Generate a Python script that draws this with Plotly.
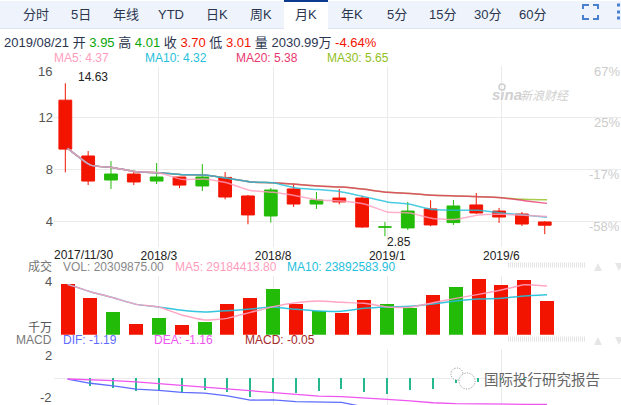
import plotly.graph_objects as go

W, H = 621, 405

# %%
# Monthly data
months = ["2017/11/30", "2017/12", "2018/1", "2018/2", "2018/3", "2018/4", "2018/5", "2018/6",
          "2018/7", "2018/8", "2018/9", "2018/10", "2018/11", "2018/12", "2019/1", "2019/2",
          "2019/3", "2019/4", "2019/5", "2019/6", "2019/7", "2019/8"]
opens = [13.33, 9.03, 7.18, 7.64, 7.10, 7.41, 6.72, 7.38, 5.95, 4.41, 6.49, 5.33, 5.79, 5.79,
         3.55, 3.49, 4.95, 3.90, 5.26, 4.79, 4.56, 3.95]
highs = [14.63, 9.41, 8.64, 7.87, 8.49, 7.41, 8.41, 7.79, 6.03, 6.56, 6.92, 6.26, 6.49, 5.95,
         3.95, 5.49, 5.62, 5.64, 6.18, 5.03, 4.72, 4.01]
lows = [7.77, 6.79, 6.49, 6.79, 6.87, 6.56, 6.33, 5.69, 3.77, 3.90, 5.10, 4.95, 5.31, 3.49,
        2.85, 3.33, 3.62, 3.72, 4.56, 3.87, 3.64, 3.01]
closes = [9.56, 7.10, 7.64, 7.03, 7.41, 6.79, 7.41, 5.87, 4.49, 6.41, 5.33, 5.64, 5.49, 3.56,
          3.57, 4.79, 3.72, 5.18, 4.64, 4.33, 3.79, 3.70]
ma5 = [9.62, 8.33, 8.13, 7.82, 7.74, 7.23, 7.26, 6.95, 6.38, 6.23, 5.97, 5.64, 5.56, 5.33,
       4.72, 4.64, 4.21, 4.15, 4.49, 4.54, 4.46, 4.37]
ma10 = [9.62, 8.33, 8.13, 7.82, 7.74, 7.59, 7.56, 7.31, 7.03, 6.97, 6.56, 6.44, 6.26, 5.90,
        5.49, 5.31, 4.90, 4.85, 4.85, 4.64, 4.49, 4.32]
ma20 = [9.62, 8.33, 8.13, 7.82, 7.74, 7.59, 7.56, 7.31, 7.03, 6.97, 6.85, 6.72, 6.64, 6.46,
        6.23, 6.15, 6.00, 5.95, 5.90, 5.82, 5.59, 5.38]
ma30 = [9.62, 8.33, 8.13, 7.82, 7.74, 7.59, 7.56, 7.31, 7.03, 6.97, 6.85, 6.72, 6.64, 6.46,
        6.23, 6.15, 6.00, 5.95, 5.90, 5.82, 5.69, 5.65]

# volume in 千万
vol = [3.04, 2.20, 1.36, 0.64, 1.00, 0.58, 0.76, 1.84, 2.20, 2.74, 1.84, 1.42, 1.30, 2.08,
       1.84, 1.60, 2.38, 2.86, 3.34, 2.98, 3.28, 2.03]
vol_ma5 = [3.02, 2.58, 2.22, 1.82, 1.66, 1.18, 0.88, 0.98, 1.34, 1.68, 1.92, 2.02, 1.94, 1.88,
           1.66, 1.64, 1.92, 2.18, 2.42, 2.68, 3.00, 2.92]
vol_ma10 = [3.02, 2.58, 2.22, 1.82, 1.66, 1.46, 1.36, 1.44, 1.54, 1.66, 1.52, 1.42, 1.40, 1.58,
            1.66, 1.70, 1.84, 2.02, 2.14, 2.18, 2.32, 2.39]

dif = [-0.03, -0.22, -0.34, -0.48, -0.54, -0.63, -0.66, -0.78, -0.97, -0.96, -1.04, -1.06, -1.07,
       -1.28, -1.39, -1.46, -1.49, -1.46, -1.37, -1.31, -1.25, -1.19]
dea = [-0.03, -0.06, -0.10, -0.16, -0.24, -0.31, -0.39, -0.46, -0.57, -0.64, -0.72, -0.79, -0.82,
       -0.87, -0.94, -1.01, -1.09, -1.13, -1.15, -1.15, -1.16, -1.16]
macd = [0, -0.33, -0.45, -0.57, -0.57, -0.63, -0.54, -0.63, -0.84, -0.63, -0.66, -0.57, -0.48,
        -0.63, -0.70, -0.51, -0.49, -0.22, -0.15, -0.05, -0.05, -0.05]

tabs = ["分时", "5日", "年线", "YTD", "日K", "周K", "月K", "年K", "5分", "15分", "30分", "60分"]
tab_centers = [36, 81, 126, 171, 217, 261, 306, 352, 397, 442, 487, 532]
date_ticks = [4, 9, 14, 19]
price_ticks = [12, 8, 4]
pct_labels = ["67%", "25%", "-17%", "-58%"]

# %%
RED = "#f31400"
GREEN = "#22bb08"
C_MA5 = "#ff9dbd"
C_MA10 = "#1fc0dc"
C_MA20 = "#e8386f"
C_MA30 = "#92c01c"
GRID = "#ebebeb"
LATIN = "Liberation Sans, Noto Sans CJK SC, sans-serif"
CJK = "Noto Sans CJK SC, Liberation Sans, sans-serif"


def px(x):
    return x / W


def py(y):
    return 1 - y / H


idx = list(range(len(months)))
bar_colors = [GREEN if c >= o else RED for o, c in zip(opens, closes)]

fig = go.Figure()

fig.add_trace(go.Candlestick(
    x=[i - 0.1 for i in idx], open=opens, high=highs, low=lows, close=closes,
    increasing=dict(line=dict(color=GREEN, width=1), fillcolor=GREEN),
    decreasing=dict(line=dict(color=RED, width=1), fillcolor=RED),
    xaxis="x", yaxis="y", showlegend=False,
))
for values, color in [(ma30, C_MA30), (ma20, C_MA20), (ma10, C_MA10), (ma5, C_MA5)]:
    fig.add_trace(go.Scatter(x=idx, y=values, mode="lines", opacity=0.8,
                             line=dict(color=color, width=1.5, shape="spline", smoothing=0.4),
                             xaxis="x", yaxis="y", showlegend=False))

fig.add_trace(go.Bar(x=idx, y=vol, marker=dict(color=bar_colors, line=dict(width=0)), width=0.613,
                     xaxis="x2", yaxis="y2", showlegend=False))
for values, color in [(vol_ma10, C_MA10), (vol_ma5, C_MA5)]:
    fig.add_trace(go.Scatter(x=idx, y=values, mode="lines", opacity=0.9,
                             line=dict(color=color, width=1.5, shape="spline", smoothing=0.4),
                             xaxis="x2", yaxis="y2", showlegend=False))

fig.add_trace(go.Bar(x=idx, y=macd, marker=dict(color="#26b98f", line=dict(width=0)), width=0.05,
                     xaxis="x3", yaxis="y3", showlegend=False))
for values, color in [(dif, "#5e6cff"), (dea, "#ef55ef")]:
    fig.add_trace(go.Scatter(x=idx, y=values, mode="lines",
                             line=dict(color=color, width=1.3),
                             xaxis="x3", yaxis="y3", showlegend=False))

x_range = [-0.596, 24.24]
x_domain = [px(54), 1]
fig.update_layout(
    width=W, height=H, margin=dict(l=0, r=0, t=0, b=0), autosize=False,
    paper_bgcolor="white", plot_bgcolor="white", boxgap=0.2, bargap=0,
    font=dict(family=LATIN),
    xaxis=dict(domain=x_domain, range=x_range, showgrid=True, gridcolor=GRID, gridwidth=1,
               zeroline=False, rangeslider=dict(visible=False), tickmode="array",
               tickvals=date_ticks, ticktext=[months[i] for i in date_ticks],
               tickfont=dict(size=12, color="#222"), ticklen=0, anchor="y"),
    yaxis=dict(domain=[py(247), py(65.5)], range=[2.02, 16], gridcolor=GRID, gridwidth=1,
               zeroline=False, tickmode="array", tickvals=[16] + price_ticks,
               ticktext=[""] + [str(v) for v in price_ticks],
               tickfont=dict(size=13, color="#555"), ticklen=0, anchor="x"),
    xaxis2=dict(domain=x_domain, range=x_range, showgrid=True, gridcolor=GRID, gridwidth=1,
                zeroline=False, tickmode="array", tickvals=date_ticks, showticklabels=False,
                ticklen=0, anchor="y2"),
    yaxis2=dict(domain=[py(334.7), py(275.7)], range=[0, 3.54], gridcolor=GRID, gridwidth=1,
                zeroline=False, tickmode="array", tickvals=[0, 3.54], showticklabels=False,
                ticklen=0, anchor="x2"),
    xaxis3=dict(domain=x_domain, range=x_range, showgrid=True, gridcolor=GRID, gridwidth=1,
                zeroline=False, tickmode="array", tickvals=date_ticks, showticklabels=False,
                ticklen=0, anchor="y3"),
    yaxis3=dict(domain=[0, py(349)], range=[-1.19, 1.31], gridcolor=GRID, gridwidth=1,
                zeroline=False, tickmode="array", tickvals=[0, 1.31], showticklabels=False,
                ticklen=0, anchor="x3"),
)

# %%
# Toolbar and small furniture
paper = dict(xref="paper", yref="paper")
shapes = [
    dict(type="rect", x0=0, x1=1, y0=py(28), y1=py(1), fillcolor="#eff4fc",
         line=dict(width=0), layer="below", **paper),
    dict(type="line", x0=0, x1=1, y0=py(28.5), y1=py(28.5), line=dict(color="#dde5f2", width=1), **paper),
    dict(type="rect", x0=px(284), x1=px(328), y0=py(29), y1=py(2), fillcolor="white",
         line=dict(width=0), **paper),
    dict(type="rect", x0=px(284), x1=px(328), y0=py(2), y1=py(0), fillcolor="#0b3a8f",
         line=dict(width=0), **paper),
]
icon = "#4a80d0"
for corner in [[(583, 9), (583, 5), (589, 5)], [(593, 5), (598, 5), (598, 9)],
               [(583, 15), (583, 19), (589, 19)], [(593, 19), (598, 19), (598, 15)]]:
    path = "M" + " L".join(f"{px(a)},{py(b)}" for a, b in corner)
    shapes.append(dict(type="path", path=path, line=dict(color=icon, width=2), **paper))
for y in [5, 12, 18]:
    shapes.append(dict(type="rect", x0=px(617), x1=px(620), y0=py(y + 1.5), y1=py(y - 1.5),
                       fillcolor=icon, line=dict(width=0), **paper))
for y in [265, 339]:
    shapes.append(dict(type="line", x0=px(508), x1=px(585), y0=py(y), y1=py(y),
                       line=dict(color="#e4e4e4", width=5, dash="1px,1px"), **paper))
    shapes.append(dict(type="path", line=dict(width=0), fillcolor="#e6e6e6", **paper,
                       path=f"M{px(594)},{py(y + 6)} L{px(602)},{py(y + 6)} L{px(598)},{py(y - 2)} Z"))
    shapes.append(dict(type="path", line=dict(width=0), fillcolor="#e6e6e6", **paper,
                       path=f"M{px(615)},{py(y - 2)} L{px(623)},{py(y - 2)} L{px(619)},{py(y + 6)} Z"))
# wechat mark
for x0, x1, y0, y1 in [(451, 463, 368, 380), (459, 475, 373, 389)]:
    shapes.append(dict(type="circle", x0=px(x0), x1=px(x1), y0=py(y1), y1=py(y0), fillcolor="white",
                       line=dict(color="#8a8a8a", width=1, dash="1px,1.5px"), **paper))
# eye of the sina logo
shapes.append(dict(type="circle", x0=px(499), x1=px(505), y0=py(90), y1=py(84),
                   line=dict(color="#cfcfcf", width=1.5), **paper))
fig.update_layout(shapes=shapes)


def label(text, x, y, size=12, color="#333", anchor="left", family=LATIN, **kw):
    return dict(text=text, xref="paper", yref="paper", x=px(x), y=py(y), xanchor=anchor,
                yanchor="middle", showarrow=False, font=dict(size=size, color=color, family=family),
                borderpad=0, **kw)


def span(text, color):
    return f'<span style="color:{color}">{text}</span>'


ink = "#2b3550"
ohlc = "2019/08/21 开 " + span("3.95", "#0aa60a") + " 高 " + span("4.01", "#0aa60a") + \
       " 收 " + span("3.70", "#f31400") + " 低 " + span("3.01", "#f31400") + \
       " 量 2030.99万 " + span("-4.64%", "#f31400")

notes = [label(t, x, 15, size=13, color=ink, anchor="center") for t, x in zip(tabs, tab_centers)]
notes += [
    label(ohlc, 3, 42, size=13, color=ink),
    label("MA5: 4.37", 53, 58, color=C_MA5),
    label("MA10: 4.32", 144, 58, color=C_MA10),
    label("MA20: 5.38", 235, 58, color=C_MA20),
    label("MA30: 5.65", 326, 58, color=C_MA30),
    label("16", 53, 71, size=13, color="#555", anchor="right"),
    label("2017/11/30", 53, 254.5, size=12, color="#222"),
    label("成交", 53, 266.5, color="#777", anchor="right"),
    label("VOL: 20309875.00", 62, 266.5, color="#888"),
    label("MA5: 29184413.80", 174, 266.5, color=C_MA5),
    label("MA10: 23892583.90", 286, 266.5, color=C_MA10),
    label("4", 53, 281, size=13, color="#555", anchor="right"),
    label("千万", 53, 328, color="#555", anchor="right"),
    label("MACD", 53, 340, color="#777", anchor="right"),
    label("DIF: -1.19", 62, 340, color="#5e6cff"),
    label("DEA: -1.16", 153, 340, color="#ef55ef"),
    label("MACD: -0.05", 244, 340, color="#a52a2a"),
    label("2", 53, 355, size=13, color="#555", anchor="right"),
    label("-2", 53, 397.5, size=13, color="#555", anchor="right"),
    label("<b><i>sina</i></b>", 491, 95, size=15, color="#d0d0d0"),
    label("<i>新浪财经</i>", 519, 95, size=12, color="#d0d0d0", family=CJK),
    label("国际投行研究报告", 483, 378, size=14.5, color="#666", family=CJK),
]
for text, y in zip(pct_labels, [71.5, 122.5, 175, 227]):
    notes.append(label(text, 621, y, size=13, color="#cccccc", anchor="right"))
notes += [
    dict(text="14.63", x=0, y=14.63, xref="x", yref="y", showarrow=False, xanchor="left",
         yanchor="middle", xshift=8, yshift=6, font=dict(size=12, color="#222")),
    dict(text="2.85", x=14, y=2.85, xref="x", yref="y", showarrow=False, xanchor="left",
         yanchor="middle", xshift=-2, yshift=-6, font=dict(size=12, color="#222")),
]
fig.update_layout(annotations=notes)

fig.write_html("out.html", config=dict(displayModeBar=False),
               post_script="document.body.style.margin='0';document.body.style.overflow='hidden';")
